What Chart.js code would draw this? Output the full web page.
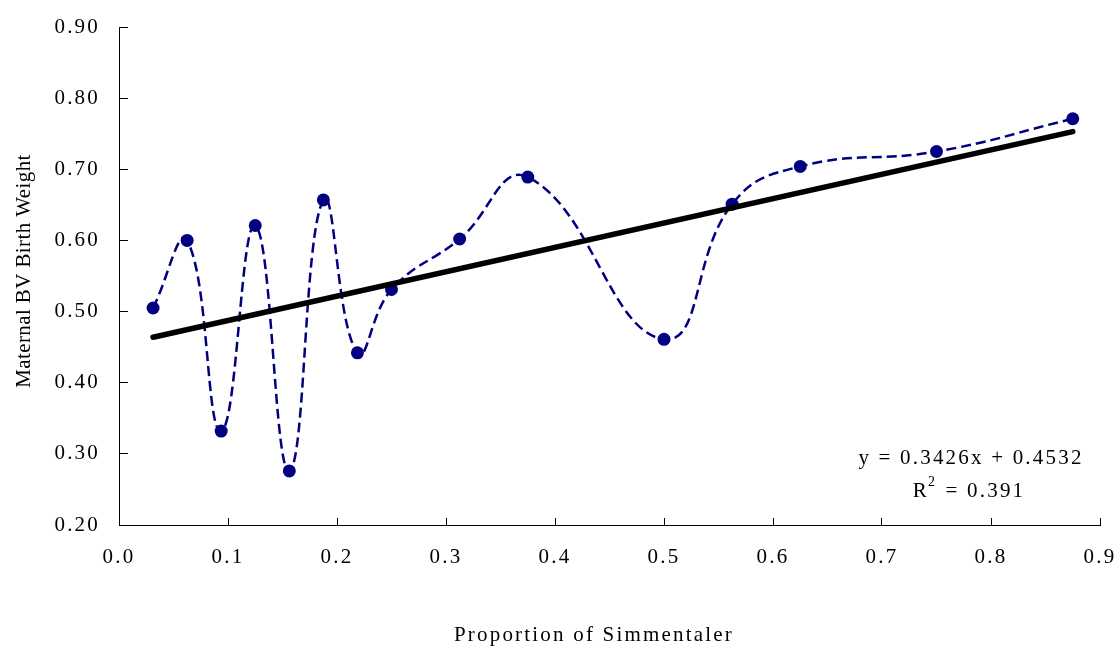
<!DOCTYPE html>
<html>
<head>
<meta charset="utf-8">
<script src="https://cdn.jsdelivr.net/npm/chart.js@4.4.0/dist/chart.umd.min.js"></script>
<style>
    body { margin: 0; background: #ffffff; }
    #wrap { width: 1117px; height: 646px; position: relative; }
</style>
</head>
<body>
<div id="wrap"><canvas id="bwChart"></canvas></div>
<script>
// Data
const proportion = [0.03125, 0.0625, 0.09375, 0.125, 0.15625, 0.1875, 0.21875, 0.25,
    0.3125, 0.375, 0.5, 0.5625, 0.625, 0.75, 0.875];
const maternalBV = [0.505, 0.600, 0.332, 0.621, 0.276, 0.657, 0.442, 0.531,
    0.602, 0.689, 0.461, 0.651, 0.704, 0.725, 0.771];

// Linear trendline end points (y = 0.3426x + 0.4532)
const trendX = [0.03125, 0.875];
const trendY = [0.4639, 0.7530];

const xTicks = [0.0, 0.1, 0.2, 0.3, 0.4, 0.5, 0.6, 0.7, 0.8, 0.9];
const yTicks = [0.20, 0.30, 0.40, 0.50, 0.60, 0.70, 0.80, 0.90];

const xTitle = 'Proportion of Simmentaler';
const yTitle = 'Maternal BV Birth Weight';
const eqText = 'y = 0.3426x + 0.4532';
const r2Value = ' = 0.391';

const serif = '"Liberation Serif", "Times New Roman", serif';
const spacing = '2.2px';

// letter spacing and free text (axis titles, trendline label)
const textPlugin = {
    id: 'textPlugin',
    beforeLayout(chart) {
        chart.ctx.letterSpacing = spacing;
    },
    beforeDraw(chart) {
        chart.ctx.letterSpacing = spacing;
    },
    afterDraw(chart) {
        const ctx = chart.ctx;
        ctx.save();
        ctx.fillStyle = '#000000';
        ctx.textBaseline = 'middle';
        ctx.font = '21px ' + serif;

        // x title
        ctx.letterSpacing = spacing;
        ctx.textAlign = 'center';
        ctx.fillText(xTitle, 594, 635);

        // equation
        ctx.fillText(eqText, 971, 458);

        // R squared line
        ctx.textAlign = 'left';
        const wR = ctx.measureText('R').width;
        const wRest = ctx.measureText(r2Value).width;
        ctx.font = '14px ' + serif;
        const w2 = ctx.measureText('2').width;
        const total = wR + w2 + wRest;
        let x = 969 - total / 2;
        ctx.font = '21px ' + serif;
        ctx.fillText('R', x, 491);
        x += wR;
        ctx.font = '14px ' + serif;
        ctx.fillText('2', x - 1, 482);
        x += w2;
        ctx.font = '21px ' + serif;
        ctx.fillText(r2Value, x, 491);

        // y title
        ctx.letterSpacing = '0.4px';
        ctx.textAlign = 'center';
        ctx.translate(24, 271);
        ctx.rotate(-Math.PI / 2);
        ctx.fillText(yTitle, 0, 0);
        ctx.restore();
    }
};

function initChart() {
    const ctx = document.getElementById('bwChart').getContext('2d');

    new Chart(ctx, {
        type: 'line',
        data: {
            datasets: [{
                label: 'Linear trend',
                data: trendX.map((x, i) => ({ x: x, y: trendY[i] })),
                borderColor: '#000000',
                borderWidth: 5.5,
                borderCapStyle: 'round',
                pointRadius: 0,
                tension: 0
            }, {
                label: 'Maternal BV',
                data: proportion.map((x, i) => ({ x: x, y: maternalBV[i] })),
                borderColor: '#000080',
                borderWidth: 2.5,
                borderDash: [10, 5],
                tension: 0.45,
                pointRadius: 6.5,
                pointBackgroundColor: '#000080',
                pointBorderWidth: 0,
                pointHoverRadius: 6.5
            }]
        },
        options: {
            responsive: true,
            maintainAspectRatio: false,
            animation: false,
            layout: {
                padding: { top: 27, right: 17, left: 0, bottom: 0 }
            },
            plugins: {
                legend: { display: false },
                tooltip: { enabled: false }
            },
            scales: {
                x: {
                    type: 'linear',
                    min: 0,
                    max: 0.9,
                    afterBuildTicks: scale => {
                        scale.ticks = xTicks.map(v => ({ value: v }));
                    },
                    afterFit: scale => {
                        scale.height = 121;
                        scale.paddingLeft = 0;
                        scale.paddingRight = 0;
                    },
                    ticks: {
                        font: { family: serif, size: 21 },
                        color: '#000000',
                        padding: 27,
                        maxRotation: 0,
                        callback: value => value.toFixed(1)
                    },
                    grid: {
                        display: true,
                        drawOnChartArea: false,
                        drawTicks: true,
                        tickLength: -7,
                        color: '#000000',
                        lineWidth: 1
                    },
                    border: { display: true, color: '#000000', width: 1 }
                },
                y: {
                    min: 0.2,
                    max: 0.9,
                    afterBuildTicks: scale => {
                        scale.ticks = yTicks.map(v => ({ value: v }));
                    },
                    afterFit: scale => {
                        scale.width = 119;
                        scale.paddingTop = 0;
                        scale.paddingBottom = 0;
                    },
                    ticks: {
                        font: { family: serif, size: 21 },
                        color: '#000000',
                        padding: 28,
                        callback: value => value.toFixed(2)
                    },
                    grid: {
                        display: true,
                        drawOnChartArea: false,
                        drawTicks: true,
                        tickLength: -9,
                        color: '#000000',
                        lineWidth: 1
                    },
                    border: { display: true, color: '#000000', width: 1 }
                }
            }
        },
        plugins: [textPlugin]
    });
}

initChart();
</script>
</body>
</html>
